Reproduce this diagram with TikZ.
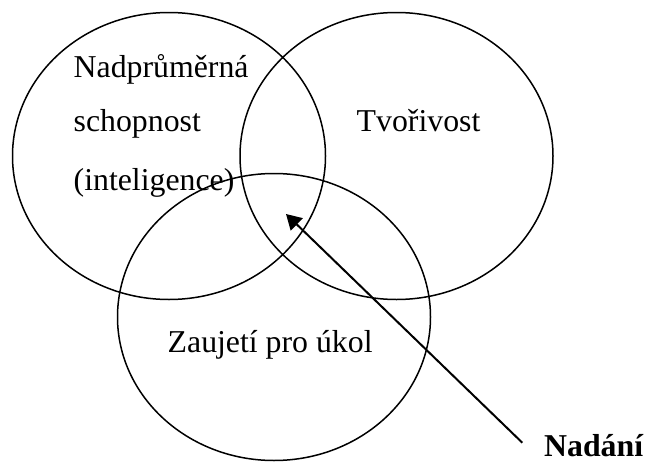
\documentclass[tikz,border=0pt]{standalone}
\usepackage{fontspec}
\setmainfont{Liberation Serif}
\usetikzlibrary{shapes.geometric,arrows.meta}
\begin{document}
\begin{tikzpicture}[x=1pt,y=-1pt,
  ring/.style={ellipse, draw, line width=1.5pt, minimum width=313pt, minimum height=287pt, inner sep=0pt},
  lbl/.style={anchor=base west, inner sep=0pt, font=\fontsize{31.8}{38}\selectfont},
  blbl/.style={lbl, font=\fontsize{31.8}{38}\selectfont\bfseries},
  pointer/.style={line width=2pt, -{Triangle[length=15pt,width=17pt]}}]
\useasboundingbox (0,0) rectangle (648,463);
\node[ring] (abil) at (169,156) {};
\node[ring] (crea) at (396.5,156) {};
\node[ring] (task) at (274,317) {};
\node[lbl] (l1) at (73.5,77) {Nadprůměrná};
\node[lbl] (l2) at (73.5,131.5) {schopnost};
\node[lbl] (l3) at (73.5,190) {(inteligence)};
\node[lbl] (tv) at (356.5,131.5) {Tvořivost};
\node[lbl] (za) at (167.5,352.5) {Zaujetí pro úkol};
\node[blbl] (nad) at (544,456) {Nadání};
\coordinate (tail) at (522.3,442.7);
\coordinate (tip) at (286,214);
\draw[pointer] (tail) -- (tip);
\end{tikzpicture}
\end{document}
